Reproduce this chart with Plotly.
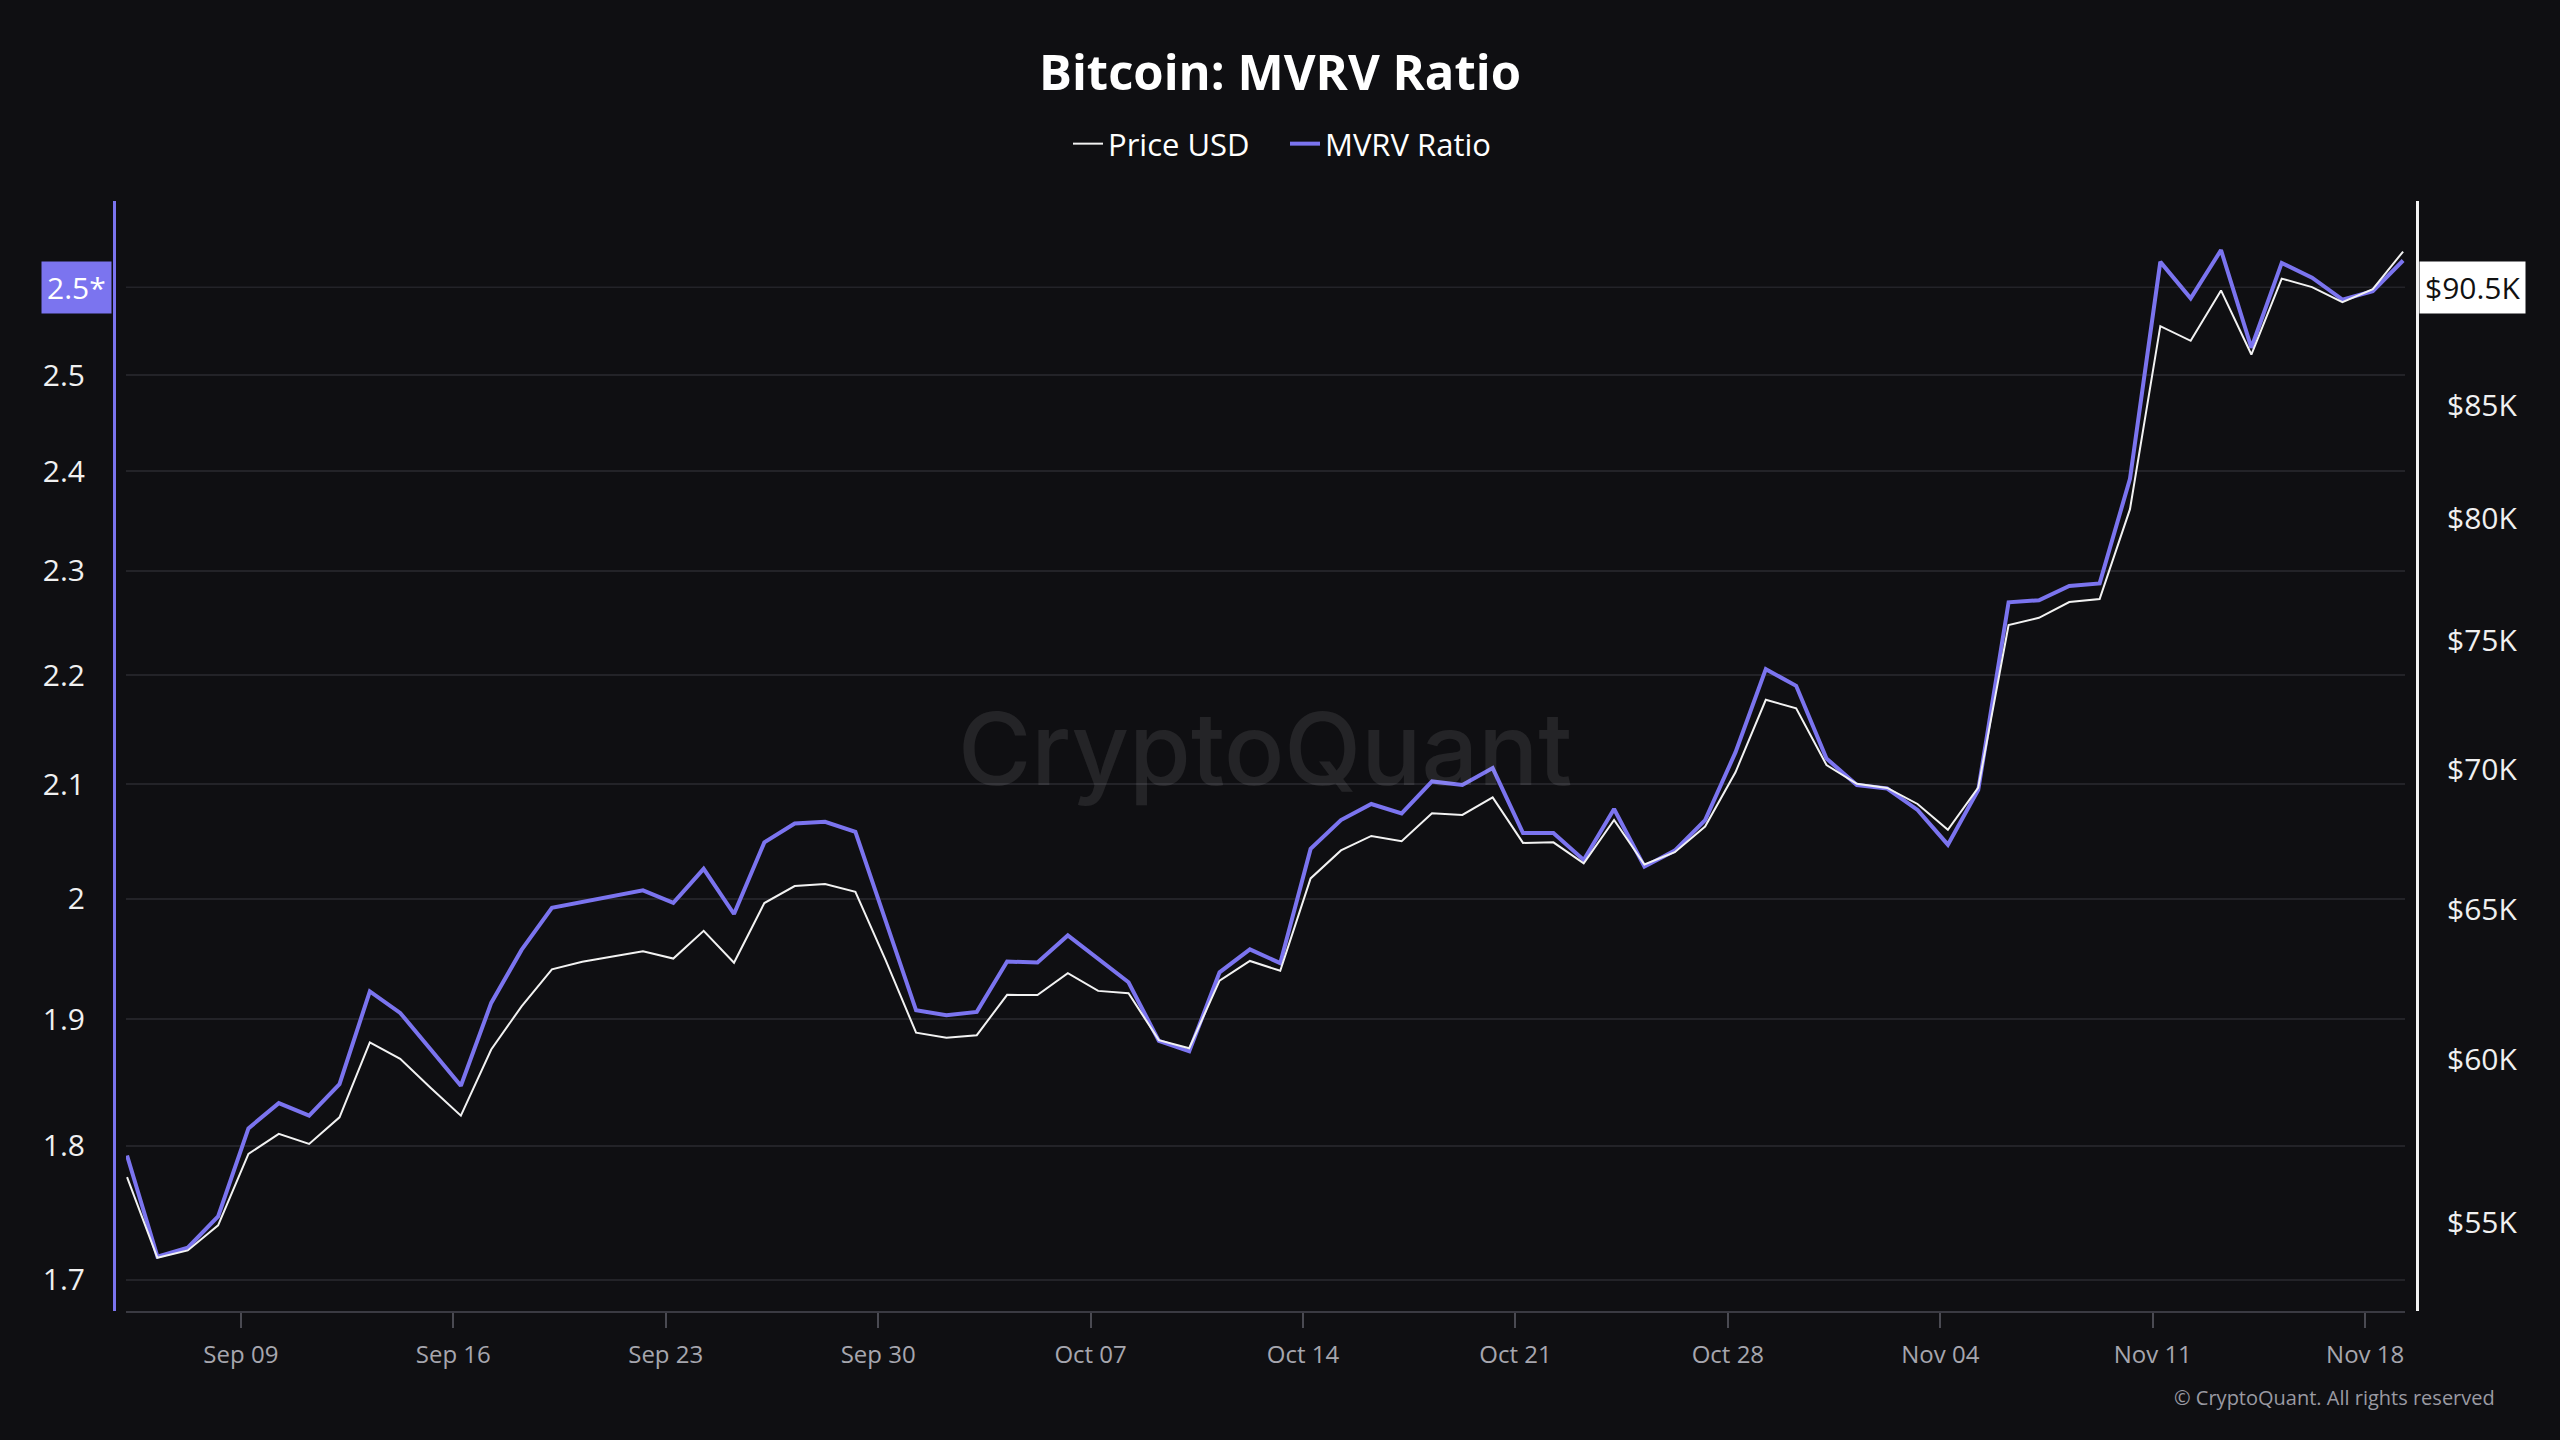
import math
import pandas as pd
import plotly.graph_objects as go

# ---- data ----
dates = pd.date_range("2024-09-05 06:00", periods=76, freq="D")

mvrv = [1.7926, 1.7170, 1.7235, 1.7467, 1.8135, 1.8331, 1.8233, 1.8480, 1.9225, 1.9050,
        1.8757, 1.8467, 1.9131, 1.9568, 1.9923, 1.9972, 2.0014, 2.0071, 1.9964, 2.0256,
        1.9870, 2.0486, 2.0652, 2.0666, 2.0579, 1.9820, 1.9071, 1.9031, 1.9058, 1.9471,
        1.9463, 1.9689, 1.9490, 1.9300, 1.8823, 1.8740, 1.9382, 1.9573, 1.9458, 2.0429,
        2.0682, 2.0824, 2.0740, 2.1025, 2.0993, 2.1145, 2.0568, 2.0568, 2.0333, 2.0780,
        2.0275, 2.0414, 2.0682, 2.1287, 2.2056, 2.1900, 2.1232, 2.0993, 2.0962, 2.0771,
        2.0466, 2.0949, 2.2694, 2.2714, 2.2852, 2.2877, 2.3920, 2.6238, 2.5833, 2.6370,
        2.5295, 2.6226, 2.6062, 2.5819, 2.5913, 2.6253]

price = [56360, 53990, 54200, 54930, 57060, 57670, 57360, 58180, 60550, 60020,
         59100, 58230, 60320, 61720, 62950, 63200, 63380, 63560, 63310, 64250,
         63170, 65210, 65800, 65870, 65600, 63250, 60860, 60700, 60780, 62100,
         62090, 62820, 62230, 62150, 60620, 60360, 62570, 63230, 62900, 66070,
         67060, 67580, 67390, 68400, 68340, 68980, 67330, 67350, 66600, 68160,
         66560, 67000, 67920, 69910, 72660, 72330, 70180, 69480, 69330, 68740,
         67800, 69340, 75610, 75900, 76540, 76660, 80420, 88650, 87960, 90350,
         87320, 90920, 90510, 89790, 90410, 92240]

left_ticks = [1.7, 1.8, 1.9, 2.0, 2.1, 2.2, 2.3, 2.4, 2.5]
left_text = ["1.7", "1.8", "1.9", "2", "2.1", "2.2", "2.3", "2.4", "2.5"]
right_ticks = [55000, 60000, 65000, 70000, 75000, 80000, 85000]
right_text = ["$55K", "$60K", "$65K", "$70K", "$75K", "$80K", "$85K"]

current_price = 90500
current_price_label = "$90.5K"
current_mvrv_label = "2.5*"

# ---- styling ----
BG = "#0f0f12"
PURPLE = "#7b74ef"
GRID = "#232328"
FONT = "Open Sans"

W, H = 2560, 1440
ML, MR, MT, MB = 114, 143, 201, 129
pw = W - ML - MR
ph = H - MT - MB
x_dom = [(126 - ML) / pw, (2405 - ML) / pw]

fig = go.Figure()
fig.add_trace(go.Scatter(
    x=dates, y=mvrv, name="MVRV Ratio", mode="lines",
    line=dict(color=PURPLE, width=4), yaxis="y", legendrank=2,
))
fig.add_trace(go.Scatter(
    x=dates, y=price, name="Price USD", mode="lines",
    line=dict(color="#f2f2f2", width=2), yaxis="y2", legendrank=1,
))

fig.update_layout(
    width=W, height=H,
    paper_bgcolor=BG, plot_bgcolor=BG,
    margin=dict(l=ML, r=MR, t=MT, b=MB),
    font=dict(family=FONT, color="#ffffff"),
    title=dict(text="<b>Bitcoin: MVRV Ratio</b>", x=0.5, xanchor="center",
               y=1 - 73 / H, yanchor="middle",
               font=dict(size=49, color="#ffffff", family=FONT)),
    showlegend=True,
    legend=dict(orientation="h", x=(1035 + 33 - ML) / pw, xanchor="left",
                y=1 + (MT - 144) / ph, yanchor="middle",
                font=dict(size=31, color="#ffffff"), itemwidth=30,
                entrywidth=172,
                bgcolor="rgba(0,0,0,0)", traceorder="normal"),
    xaxis=dict(
        domain=x_dom,
        range=["2024-09-05 05:10", "2024-11-19 07:30"],
        type="date", tick0="2024-09-09", dtick=7 * 24 * 3600 * 1000,
        tickformat="%b %d",
        showgrid=False, zeroline=False,
        showline=True, linecolor="#3a3a42", linewidth=2,
        ticks="outside", ticklen=15, tickwidth=1.5, tickcolor="#4a4a52",
        ticklabelstandoff=6,
        tickfont=dict(size=24, color="#a6a6ae"),
    ),
    yaxis=dict(
        type="log", range=[0.2247, 0.4302],
        anchor="free", position=0, side="left",
        tickvals=left_ticks, ticktext=left_text,
        tickfont=dict(size=30, color="#f0f0f0"),
        ticks="outside", ticklen=22, tickcolor="rgba(0,0,0,0)",
        showgrid=True, gridcolor=GRID, gridwidth=1.5, zeroline=False,
        showline=True, linecolor=PURPLE, linewidth=3,
    ),
    yaxis2=dict(
        type="log", range=[4.72, 4.9766],
        anchor="free", position=1, side="right", overlaying="y",
        tickvals=right_ticks, ticktext=right_text,
        tickfont=dict(size=30, color="#f0f0f0"),
        ticks="outside", ticklen=22, tickcolor="rgba(0,0,0,0)",
        showgrid=False, zeroline=False,
        showline=True, linecolor="#f2f2f2", linewidth=3,
    ),
)

# current-value reference line
fig.add_shape(type="line", xref="paper", yref="y2",
              x0=x_dom[0], x1=x_dom[1], y0=current_price, y1=current_price,
              line=dict(color=GRID, width=1.5), layer="below")

cur_y = math.log10(current_price)  # annotations on log axes use log10 units
annotations = [
    dict(text=current_mvrv_label, xref="paper", yref="y2", x=0, y=cur_y,
         xanchor="right", yanchor="middle", showarrow=False, xshift=-2,
         bgcolor=PURPLE, borderpad=5, font=dict(size=30, color="#ffffff")),
    dict(text=current_price_label, xref="paper", yref="y2", x=1, y=cur_y,
         xanchor="left", yanchor="middle", showarrow=False, xshift=2,
         bgcolor="#ffffff", borderpad=5, font=dict(size=30, color="#111111")),
    dict(text="CryptoQuant", xref="paper", yref="paper",
         x=(1265 - ML) / pw, y=1 - (748 - MT) / ph, xanchor="center", yanchor="middle",
         showarrow=False,
         font=dict(size=100, color="rgba(255,255,255,0.09)", family="Inter", weight=500)),
    dict(text="© CryptoQuant. All rights reserved", xref="paper", yref="paper",
         x=(2497 - ML) / pw, y=-(1397 - (MT + ph)) / ph, xanchor="right", yanchor="middle",
         showarrow=False, font=dict(size=20, color="#9a9aa2")),
]
fig.update_layout(annotations=annotations)

fig.write_html(
    "out.html",
    config={"displayModeBar": False},
    post_script="document.body.style.margin='0';document.body.style.background='#0f0f12';",
)
